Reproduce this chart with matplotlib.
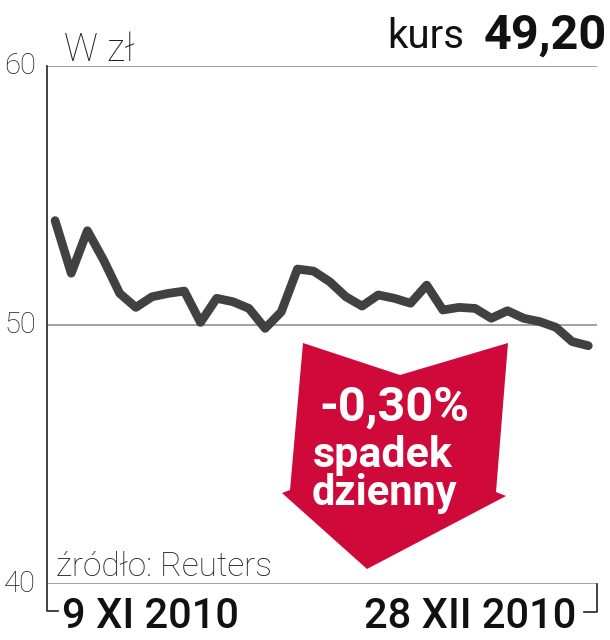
import matplotlib
matplotlib.use("Agg")
import matplotlib.pyplot as plt
from matplotlib.patches import Polygon
import numpy as np

# daily closes, 9 XI 2010 - 28 XII 2010
prices = [54.03, 52.00, 53.64, 52.51, 51.22, 50.68, 51.09, 51.22, 51.31, 50.10,
          51.03, 50.90, 50.64, 49.87, 50.51, 52.16, 52.08, 51.67, 51.09, 50.73,
          51.16, 51.03, 50.84, 51.54, 50.58, 50.68, 50.64, 50.26, 50.55, 50.26,
          50.13, 49.91, 49.36, 49.20]
y_ticks = [40, 50, 60]
first_date = "9 XI 2010"
last_date = "28 XII 2010"
last_price = "49,20"
change = "-0,30%"

W, H = 610, 640
fig = plt.figure(figsize=(W / 100, H / 100), dpi=100)
ax = fig.add_axes([47 / W, 1 - 584 / H, 550 / W, 518 / H])

def fx(x):
    return x / W

def fy(y):
    return 1 - y / H

grey = "#999999"
dark = "#414141"
red = "#cf0a3a"

for t in y_ticks:
    ax.axhline(t, color=grey, lw=1.3, zorder=1)
    ax.text(-0.02, t, str(t), transform=ax.get_yaxis_transform(), ha="right", va="center",
            fontsize=21, family="Roboto", fontweight="light", color="#222222")

x = np.arange(len(prices))
ax.plot(x, prices, color=dark, lw=6.3, solid_capstyle="round", solid_joinstyle="round", zorder=3)
ax.set_xlim(-0.5, 33.54)
ax.set_ylim(40, 60)
ax.axis("off")

# left spine with bottom hook, right bracket
ax.plot([0, 0, 0.02], [1, -0.052, -0.052], transform=ax.transAxes, color="#222222", lw=1.2, clip_on=False)
ax.plot([1, 1, 0.977], [0, -0.054, -0.054], transform=ax.transAxes, color="#222222", lw=1.2, clip_on=False)

# labels
fig.text(fx(64), fy(61), "W zł", fontsize=27, family="Roboto", fontweight="light", color="#222222")
fig.text(fx(56), fy(576), "źródło: Reuters", fontsize=24, family="Roboto", fontweight="light", color="#222222")
fig.text(fx(464), fy(48), "kurs", fontsize=29, family="Roboto", ha="right", color="#111111")
fig.text(fx(607), fy(49), last_price, fontsize=35, family="Roboto",
         fontweight="bold", ha="right", color="#111111")
fig.text(fx(62), fy(628), first_date, fontsize=30, family="Roboto", fontweight="medium", color="#111111")
fig.text(fx(576), fy(628), last_date, fontsize=30, family="Roboto", fontweight="medium", ha="right", color="#111111")

# red arrow
arrow_px = [(303, 343), (400, 375), (508, 343), (496, 492), (506, 496),
            (367, 569), (282, 493), (290, 490)]
arrow = Polygon([(fx(a), fy(b)) for a, b in arrow_px], closed=True, transform=fig.transFigure,
                facecolor=red, edgecolor="none", zorder=2)
fig.patches.append(arrow)
fig.text(fx(394), fy(421), change, fontsize=35, family="Roboto", fontweight="bold", color="white", ha="center")
fig.text(fx(383), fy(467), "spadek", fontsize=31, family="Roboto", fontweight="bold", color="white", ha="center")
fig.text(fx(384), fy(505), "dzienny", fontsize=30, family="Roboto", fontweight="bold", color="white", ha="center")

fig.savefig("out.png", dpi=100)
